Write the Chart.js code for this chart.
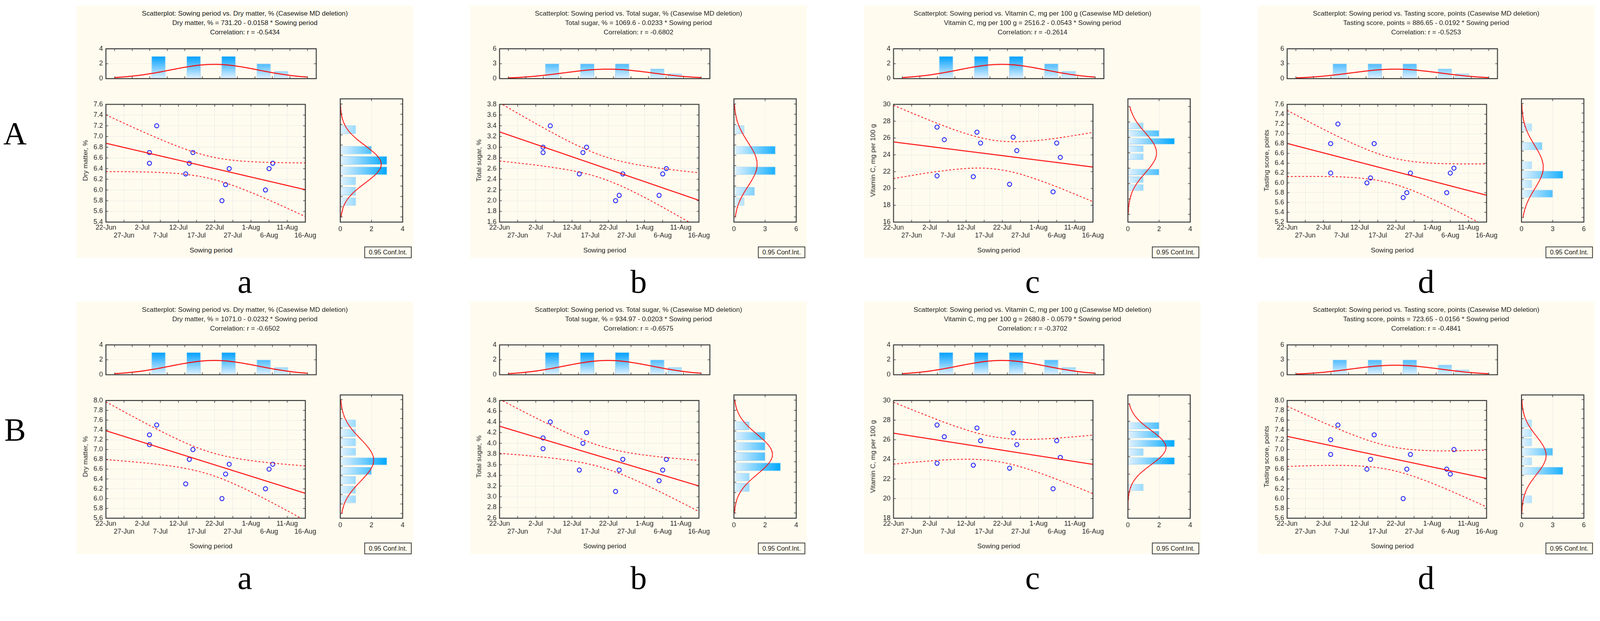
<!DOCTYPE html>
<html>
<head>
<meta charset="utf-8">
<title>Sowing period scatterplots</title>
<script src="https://cdn.jsdelivr.net/npm/chart.js@4.4.1/dist/chart.umd.min.js"></script>
<style>
  html, body { margin: 0; padding: 0; background: #fff; font-family: "Liberation Sans", Arial, sans-serif; overflow: hidden; }
  #page { position: relative; width: 4260px; height: 1589px; overflow: hidden; transform-origin: 0 0; }
  .panel { position: absolute; width: 896px; height: 671px; background: #fffcef; }
  .txt { position: absolute; white-space: nowrap; color: #1a1a1a; }
  canvas { position: absolute; }
  .letter { position: absolute; font-family: "Liberation Serif", serif; color: #000; transform: translate(-50%, -50%); }
</style>
</head>
<body>
<div id="page"></div>
<script>
// sowing dates as days after 22-Jun
const sowingDays = [12, 12, 14, 22, 23, 24, 32, 33, 34, 44, 45, 46];
const dateTicks = ["22-Jun", "27-Jun", "2-Jul", "7-Jul", "12-Jul", "17-Jul", "22-Jul", "27-Jul", "1-Aug", "6-Aug", "11-Aug", "16-Aug"];
const topBinCenters = [12.5, 22.5, 32.5, 42.5, 47.5];
const topBinCounts = [3, 3, 3, 2, 1];

// row A
const dryMatterA = [6.7, 6.5, 7.2, 6.3, 6.5, 6.7, 5.8, 6.1, 6.4, 6.0, 6.4, 6.5];
const dryMatterABins = [7.1, 6.7, 6.5, 6.3, 6.1, 5.9, 5.7];
const dryMatterACounts = [1, 2, 3, 3, 1, 1, 1];
const sugarA = [3.0, 2.9, 3.4, 2.5, 2.9, 3.0, 2.0, 2.1, 2.5, 2.1, 2.5, 2.6];
const sugarABins = [3.3, 2.9, 2.5, 2.1, 1.9];
const sugarACounts = [1, 4, 4, 2, 1];
const vitCA = [27.3, 21.5, 25.8, 21.4, 26.7, 25.4, 20.5, 26.1, 24.5, 19.6, 25.4, 23.7];
const vitCABins = [27.5, 26.5, 25.5, 24.5, 23.5, 21.5, 20.5, 19.5];
const vitCACounts = [1, 2, 3, 1, 1, 2, 1, 1];
const tasteA = [6.8, 6.2, 7.2, 6.0, 6.1, 6.8, 5.7, 5.8, 6.2, 5.8, 6.2, 6.3];
const tasteABins = [7.1, 6.7, 6.3, 6.1, 5.9, 5.7];
const tasteACounts = [1, 2, 1, 4, 1, 3];

// row B
const dryMatterB = [7.3, 7.1, 7.5, 6.3, 6.8, 7.0, 6.0, 6.5, 6.7, 6.2, 6.6, 6.7];
const dryMatterBBins = [7.5, 7.3, 7.1, 6.9, 6.7, 6.5, 6.3, 6.1, 5.9];
const dryMatterBCounts = [1, 1, 1, 1, 3, 2, 1, 1, 1];
const sugarB = [4.1, 3.9, 4.4, 3.5, 4.0, 4.2, 3.1, 3.5, 3.7, 3.3, 3.5, 3.7];
const sugarBBins = [4.3, 4.1, 3.9, 3.7, 3.5, 3.3, 3.1];
const sugarBCounts = [1, 2, 2, 2, 3, 1, 1];
const vitCB = [27.5, 23.6, 26.3, 23.4, 27.2, 25.9, 23.1, 26.7, 25.5, 21.0, 25.9, 24.2];
const vitCBBins = [27.5, 26.5, 25.5, 24.5, 23.5, 20.5];
const vitCBCounts = [2, 2, 3, 1, 3, 1];
const tasteB = [7.2, 6.9, 7.5, 6.6, 6.8, 7.3, 6.0, 6.6, 6.9, 6.6, 6.5, 7.0];
const tasteBBins = [7.5, 7.3, 7.1, 6.9, 6.7, 6.5, 5.9];
const tasteBCounts = [1, 1, 1, 3, 1, 4, 1];

const panels = [
  {row: 0, col: 0, name: "Dry matter, %", eq: "731.20 - 0.0158", r: "-0.5434", y: dryMatterA, bins: dryMatterABins, counts: dryMatterACounts, ymin: 5.4, ymax: 7.6, ystep: 0.2, bw: 0.2, topMax: 4, topStep: 2, rMax: 4, rStep: 2},
  {row: 0, col: 1, name: "Total sugar, %", eq: "1069.6 - 0.0233", r: "-0.6802", y: sugarA, bins: sugarABins, counts: sugarACounts, ymin: 1.6, ymax: 3.8, ystep: 0.2, bw: 0.2, topMax: 6, topStep: 3, rMax: 6, rStep: 3},
  {row: 0, col: 2, name: "Vitamin C, mg per 100 g", eq: "2516.2 - 0.0543", r: "-0.2614", y: vitCA, bins: vitCABins, counts: vitCACounts, ymin: 16, ymax: 30, ystep: 2, bw: 1, topMax: 4, topStep: 2, rMax: 4, rStep: 2},
  {row: 0, col: 3, name: "Tasting score, points", eq: "886.65 - 0.0192", r: "-0.5253", y: tasteA, bins: tasteABins, counts: tasteACounts, ymin: 5.2, ymax: 7.6, ystep: 0.2, bw: 0.2, topMax: 6, topStep: 3, rMax: 6, rStep: 3},
  {row: 1, col: 0, name: "Dry matter, %", eq: "1071.0 - 0.0232", r: "-0.6502", y: dryMatterB, bins: dryMatterBBins, counts: dryMatterBCounts, ymin: 5.6, ymax: 8.0, ystep: 0.2, bw: 0.2, topMax: 4, topStep: 2, rMax: 4, rStep: 2},
  {row: 1, col: 1, name: "Total sugar, %", eq: "934.97 - 0.0203", r: "-0.6575", y: sugarB, bins: sugarBBins, counts: sugarBCounts, ymin: 2.6, ymax: 4.8, ystep: 0.2, bw: 0.2, topMax: 4, topStep: 2, rMax: 4, rStep: 2},
  {row: 1, col: 2, name: "Vitamin C, mg per 100 g", eq: "2680.8 - 0.0579", r: "-0.3702", y: vitCB, bins: vitCBBins, counts: vitCBCounts, ymin: 18, ymax: 30, ystep: 2, bw: 1, topMax: 4, topStep: 2, rMax: 4, rStep: 2},
  {row: 1, col: 3, name: "Tasting score, points", eq: "723.65 - 0.0156", r: "-0.4841", y: tasteB, bins: tasteBBins, counts: tasteBCounts, ymin: 5.6, ymax: 8.0, ystep: 0.2, bw: 0.2, topMax: 6, topStep: 3, rMax: 6, rStep: 3}
];

Chart.defaults.font.family = "'Liberation Sans', Arial, sans-serif";
Chart.defaults.font.size = 18;
Chart.defaults.color = "#1a1a1a";

const page = document.getElementById("page");
// fit the 4260x1589 layout into whatever viewport the page gets
const fit = Math.min(window.innerWidth / 4260, window.innerHeight / 1589);
if (fit > 0 && Math.abs(fit - 1) > 0.005) page.style.transform = "scale(" + fit + ")";
const GRID = "#e6e6e6";

// frame with inward tick marks, like the original software draws
const framePlugin = {
  id: "frame",
  afterDraw(chart) {
    const a = chart.chartArea, c = chart.ctx;
    c.save();
    c.strokeStyle = "#333";
    c.lineWidth = 1.5;
    const tx = chart.options.plugins.frame.x, ty = chart.options.plugins.frame.y;
    if (tx) chart.scales.x.ticks.forEach(t => {
      const p = chart.scales.x.getPixelForValue(t.value);
      c.beginPath(); c.moveTo(p, a.top); c.lineTo(p, a.top + 6); c.moveTo(p, a.bottom); c.lineTo(p, a.bottom - 6); c.stroke();
    });
    if (ty) chart.scales.y.ticks.forEach(t => {
      const p = chart.scales.y.getPixelForValue(t.value);
      c.beginPath(); c.moveTo(a.left, p); c.lineTo(a.left + 6, p); c.moveTo(a.right, p); c.lineTo(a.right - 6, p); c.stroke();
    });
    c.lineWidth = 2.5;
    c.strokeRect(a.left, a.top, a.right - a.left, a.bottom - a.top);
    c.restore();
  }
};
Chart.register(framePlugin);

function el(cls, css, text) {
  const d = document.createElement("div");
  d.className = cls;
  Object.assign(d.style, css);
  if (text !== undefined) d.textContent = text;
  page.appendChild(d);
  return d;
}
function canvasAt(left, top, w, h) {
  const cv = document.createElement("canvas");
  cv.width = w; cv.height = h;
  cv.style.left = left + "px"; cv.style.top = top + "px";
  cv.style.width = w + "px"; cv.style.height = h + "px";
  page.appendChild(cv);
  return cv;
}
function mean(a) { return a.reduce((s, v) => s + v, 0) / a.length; }
function sd(a) { const m = mean(a); return Math.sqrt(a.reduce((s, v) => s + (v - m) * (v - m), 0) / (a.length - 1)); }
function normalCurve(values, binWidth, lo, hi, steps) {
  const m = mean(values), s = sd(values), n = values.length, out = [];
  for (let i = 0; i <= steps; i++) {
    const v = lo + (hi - lo) * i / steps;
    out.push([v, n * binWidth * Math.exp(-0.5 * ((v - m) / s) ** 2) / (s * Math.sqrt(2 * Math.PI))]);
  }
  return out;
}
function gradientFill(axis, top, light, dark) {
  return ctx => {
    const ch = ctx.chart;
    if (!ch.chartArea) return dark;
    const s = ch.scales[axis];
    const p0 = s.getPixelForValue(0), p1 = s.getPixelForValue(top);
    const g = axis === "y" ? ch.ctx.createLinearGradient(0, p0, 0, p1) : ch.ctx.createLinearGradient(p0, 0, p1, 0);
    g.addColorStop(0, light); g.addColorStop(1, dark);
    return g;
  };
}
const baseOpts = {
  responsive: false, animation: false, devicePixelRatio: 1,
  layout: {autoPadding: false, padding: {top: 4, right: 4, left: 0, bottom: 0}},
  plugins: {legend: {display: false}, tooltip: {enabled: false}, frame: {x: true, y: true}}
};

function buildPanel(p) {
  const PX = Math.round(204 + p.col * 1048.3), PY = 15 + p.row * 788;
  const dec = p.ystep < 1 ? 1 : 0;
  el("panel", {left: PX + "px", top: PY + "px"});
  const full = "Scatterplot: Sowing period vs. " + p.name + " (Casewise MD deletion)";
  [full, p.name + " = " + p.eq + "  * Sowing period", "Correlation: r = " + p.r].forEach((t, i) => {
    el("txt", {left: PX + "px", width: "896px", textAlign: "center", top: (PY + 11 + i * 25) + "px", fontSize: "18px"}, t);
  });

  // top histogram of sowing period
  const topCurve = normalCurve(sowingDays, 5, 0, 55, 110);
  new Chart(canvasAt(PX + 18, PY + 96, 624, 117), {
    type: "bar",
    data: {datasets: [
      {type: "line", data: topCurve.map(d => ({x: d[0], y: d[1]})), borderColor: "#ff0000", borderWidth: 2.5, pointRadius: 0, order: 0},
      {data: topBinCenters.map((c, i) => ({x: c, y: topBinCounts[i]})), backgroundColor: gradientFill("y", p.topMax * 0.75, "#e4f3ff", "#00a0ff"),
       borderColor: "#8cc4ec", borderWidth: 1, barPercentage: 0.8, categoryPercentage: 1, order: 1}
    ]},
    options: Object.assign({}, baseOpts, {
      layout: {autoPadding: false, padding: {top: 4, right: 4, left: 0, bottom: 4}},
      scales: {
        x: {type: "linear", min: 0, max: 55, display: false, ticks: {stepSize: 5}},
        y: {min: 0, max: p.topMax, afterFit: s => { s.width = 60; }, ticks: {stepSize: p.topStep, padding: 8},
            grid: {color: GRID, drawTicks: false}, border: {display: false}}
      }
    })
  });

  // scatter with regression line and 95% confidence band
  const xm = mean(sowingDays), ym = mean(p.y);
  let sxx = 0, sxy = 0;
  sowingDays.forEach((x, i) => { sxx += (x - xm) ** 2; sxy += (x - xm) * (p.y[i] - ym); });
  const b = sxy / sxx, a0 = ym - b * xm;
  let sse = 0;
  sowingDays.forEach((x, i) => { sse += (p.y[i] - a0 - b * x) ** 2; });
  const se = Math.sqrt(sse / (sowingDays.length - 2)), t = 2.228;
  const up = [], lo = [];
  for (let x = 0; x <= 55; x += 0.5) {
    const h = t * se * Math.sqrt(1 / sowingDays.length + (x - xm) ** 2 / sxx);
    up.push({x, y: a0 + b * x + h}); lo.push({x, y: a0 + b * x - h});
  }
  const dash = {type: "line", borderColor: "#ff0000", borderWidth: 2, borderDash: [5, 5], pointRadius: 0, fill: false};
  new Chart(canvasAt(PX + 18, PY + 244, 624, 382), {
    type: "scatter",
    data: {datasets: [
      Object.assign({data: up}, dash),
      Object.assign({data: lo}, dash),
      {type: "line", data: [{x: 0, y: a0}, {x: 55, y: a0 + b * 55}], borderColor: "#ff0000", borderWidth: 2.5, pointRadius: 0},
      {data: sowingDays.map((x, i) => ({x, y: p.y[i]})), pointStyle: "circle", pointRadius: 5.5, borderColor: "#0000ff", borderWidth: 2, backgroundColor: "rgba(0,0,0,0)"}
    ]},
    options: Object.assign({}, baseOpts, {
      scales: {
        x: {type: "linear", min: 0, max: 55, afterFit: s => { s.height = 50; },
            ticks: {stepSize: 5, autoSkip: false, maxRotation: 0, padding: 4, font: {size: 18, lineHeight: 1.2},
                    callback: v => { const k = Math.round(v / 5); return k % 2 === 0 ? [dateTicks[k], ""] : ["", dateTicks[k]]; }},
            grid: {color: GRID, drawTicks: false}, border: {display: false}},
        y: {min: p.ymin, max: p.ymax, afterFit: s => { s.width = 60; },
            ticks: {stepSize: p.ystep, padding: 8, callback: v => Number(v).toFixed(dec)},
            grid: {color: GRID, drawTicks: false}, border: {display: false}}
      }
    })
  });

  // right histogram of the response
  const rCurve = normalCurve(p.y, p.bw, p.ymin, p.ymax, 120);
  new Chart(canvasAt(PX + 689, PY + 244, 192, 382), {
    type: "bar",
    data: {datasets: [
      {type: "line", data: rCurve.map(d => ({x: d[1], y: d[0]})), borderColor: "#ff0000", borderWidth: 2, pointRadius: 0, order: 0},
      {data: p.bins.map((c, i) => ({x: p.counts[i], y: c})), backgroundColor: gradientFill("x", p.rMax * 0.75, "#e4f3ff", "#00a8ff"),
       borderColor: "#8cc4ec", borderWidth: 1, barPercentage: 0.8, categoryPercentage: 1, order: 1}
    ]},
    options: Object.assign({}, baseOpts, {
      indexAxis: "y",
      layout: {autoPadding: false, padding: {top: 4, right: 4, left: 4, bottom: 0}},
      scales: {
        x: {type: "linear", min: 0, max: p.rMax, afterFit: s => { s.height = 50; },
            ticks: {stepSize: p.rStep, padding: 8, maxRotation: 0}, grid: {color: GRID, drawTicks: false}, border: {display: false}},
        y: {type: "linear", min: p.ymin, max: p.ymax, display: true, afterFit: s => { s.width = 0; },
            ticks: {stepSize: p.ystep, display: false}, grid: {display: false}, border: {display: false}}
      }
    })
  });

  el("txt", {left: (PX + 24) + "px", top: (PY + 412) + "px", fontSize: "18px", transform: "translate(-50%, -50%) rotate(-90deg)"}, p.name);
  el("txt", {left: (PX + 358) + "px", top: (PY + 651) + "px", fontSize: "18px", transform: "translate(-50%, -50%)"}, "Sowing period");
  el("txt", {left: (PX + 766) + "px", top: (PY + 641) + "px", width: "122px", height: "27px", lineHeight: "27px", textAlign: "center",
             border: "2px solid #333", fontSize: "17px", background: "#fffcef"}, "0.95 Conf.Int.");
  el("letter", {left: (PX + 448) + "px", top: (PY + 735) + "px", fontSize: "88px"}, "abcd"[p.col]);
}

panels.forEach(buildPanel);
el("letter", {left: "40px", top: "355px", fontSize: "86px"}, "A");
el("letter", {left: "40px", top: "1143px", fontSize: "86px"}, "B");
</script>
</body>
</html>
